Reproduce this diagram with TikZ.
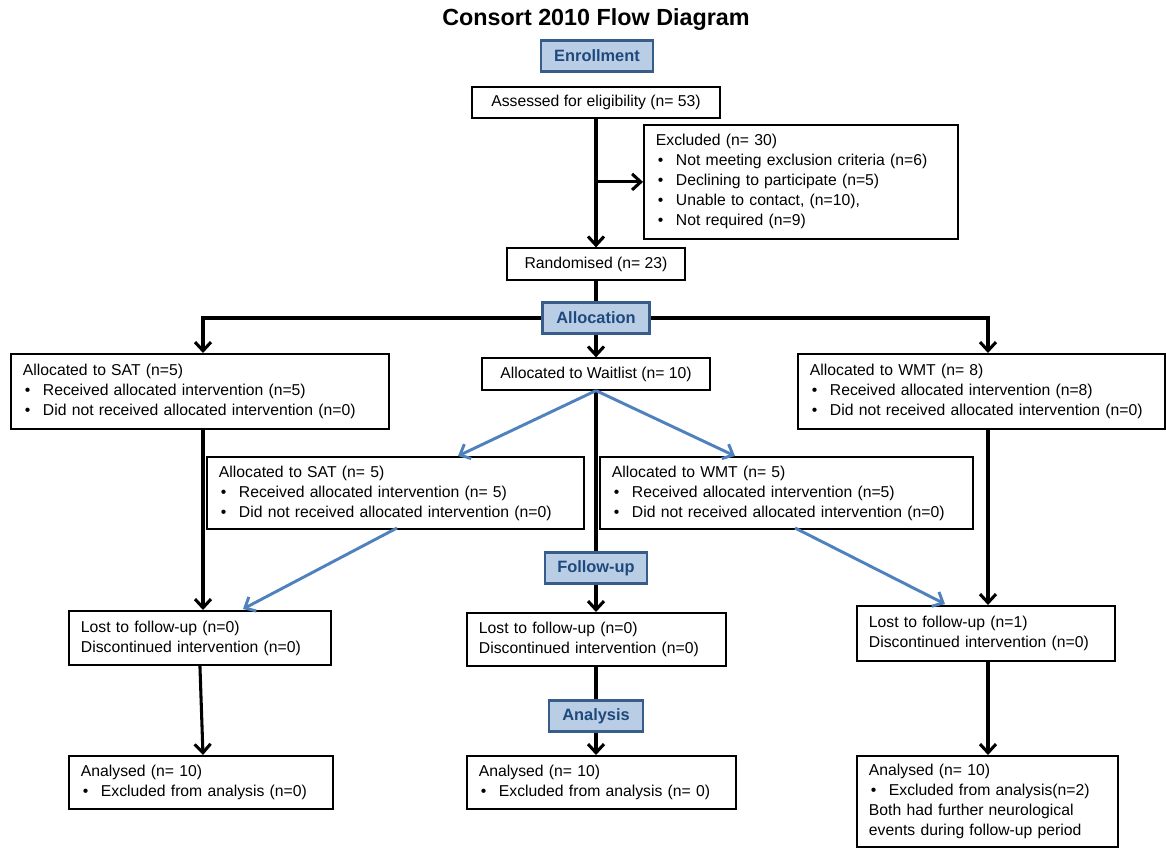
\documentclass[tikz,border=0pt]{standalone}
\usepackage{fontspec}
\setmainfont{Liberation Sans}
\usetikzlibrary{arrows.meta,calc}
\definecolor{lblue}{HTML}{B9CDE5}
\definecolor{dblue}{HTML}{385D8A}
\definecolor{tblue}{HTML}{1F497D}
\definecolor{arrblue}{HTML}{4F81BD}
\newcommand{\bul}{\makebox[15pt][l]{\hspace{1.5pt}•}}
\begin{document}
\begin{tikzpicture}[x=0.75pt,y=-0.75pt,
  box/.style={draw=black, line width=1.4pt, fill=white, inner xsep=9pt, inner ysep=0pt,
    align=left, font=\fontsize{11.8}{15}\selectfont, anchor=north west},
  cbox/.style={draw=black, line width=1.4pt, fill=white, inner sep=0pt,
    font=\fontsize{11.8}{15}\selectfont, minimum height=23.5pt},
  lab/.style={draw=dblue, fill=lblue, line width=2.2pt, inner sep=0pt, minimum height=23.5pt,
    font=\fontsize{12.3}{14}\selectfont\bfseries, text=tblue},
  arr/.style={line width=2.3pt, -{Straight Barb[length=6.5pt,width=12pt]}},
  ln/.style={line width=2.3pt},
  barr/.style={draw=arrblue, line width=2.2pt, -{Straight Barb[length=6.5pt,width=12pt]}}]
\useasboundingbox (0,0) rectangle (1166,848);

\node[font=\fontsize{17.5}{20}\selectfont\bfseries] (title) at (596,20) {Consort 2010 Flow Diagram};

\node[lab, minimum width=84pt] (enroll) at (597,56) {Enrollment};
\node[cbox, minimum width=186pt] (assess) at (596,102.5) {Assessed for eligibility (n= 53)};
\node[box, text width=217.5pt, minimum height=85.5pt] (excl) at (643,124) {Excluded (n= 30)\\
\bul Not meeting exclusion criteria (n=6)\\
\bul Declining to participate (n=5)\\
\bul Unable to contact, (n=10),\\
\bul Not required (n=9)};
\node[cbox, minimum width=133.5pt] (rand) at (596,264) {Randomised (n= 23)};
\node[lab, minimum width=80.25pt] (alloc) at (596,318) {Allocation};

\node[box, text width=265.5pt, minimum height=56.25pt] (sat) at (10,353) {Allocated to SAT (n=5)\\
\bul Received allocated intervention (n=5)\\
\bul Did not received allocated intervention (n=0)};
\node[cbox, minimum width=171pt] (wait) at (596,374) {Allocated to Waitlist (n= 10)};
\node[box, text width=257.25pt, minimum height=56.25pt] (wmt) at (797,353) {Allocated to WMT (n= 8)\\
\bul Received allocated intervention (n=8)\\
\bul Did not received allocated intervention (n=0)};

\node[box, text width=264.75pt, minimum height=54pt] (sat2) at (206,456) {Allocated to SAT (n= 5)\\
\bul Received allocated intervention (n= 5)\\
\bul Did not received allocated intervention (n=0)};
\node[box, text width=261.75pt, minimum height=54pt] (wmt2) at (599,456) {Allocated to WMT (n= 5)\\
\bul Received allocated intervention (n=5)\\
\bul Did not received allocated intervention (n=0)};

\node[lab, minimum width=76.5pt] (follow) at (596,568) {Follow-up};

\node[box, text width=178.5pt, minimum height=40.5pt] (lost1) at (68,610) {Lost to follow-up (n=0)\\
Discontinued intervention (n=0)};
\node[box, text width=176.25pt, minimum height=39.75pt] (lost2) at (466,612) {Lost to follow-up (n=0)\\
Discontinued intervention (n=0)};
\node[box, text width=175.5pt, minimum height=41.25pt] (lost3) at (856,605) {Lost to follow-up (n=1)\\
Discontinued intervention (n=0)};

\node[lab, minimum width=70.5pt] (analysis) at (596,716) {Analysis};

\node[box, text width=180pt, minimum height=39.75pt] (an1) at (68,755) {Analysed (n= 10)\\
\bul Excluded from analysis (n=0)};
\node[box, text width=183.75pt, minimum height=39.75pt] (an2) at (466,755) {Analysed (n= 10)\\
\bul Excluded from analysis (n= 0)};
\node[box, text width=177.75pt, minimum height=68.25pt] (an3) at (856,755) {Analysed (n= 10)\\
\bul Excluded from analysis(n=2)\\
Both had further neurological\\
events during follow-up period};

% columns and free ends
\coordinate (colL) at (203,0);
\coordinate (colR) at (988,0);
\coordinate (j1) at (assess.south |- excl.west);
\coordinate (b1) at (458,456);
\coordinate (b2) at (735,456);
\coordinate (b3s) at (397,528);
\coordinate (b3e) at (243,609);
\coordinate (b4s) at (795,528);
\coordinate (b4e) at (945,604);

% black connectors
\draw[arr] (assess.south) -- (rand.north);
\draw[arr] (j1) -- (excl.west);
\draw[ln] (rand.south) -- (alloc.north);
\draw[arr] (alloc.south) -- (wait.north);
\draw[arr] (alloc.west) -| (sat.north -| colL);
\draw[arr] (alloc.east) -| (wmt.north -| colR);
\draw[arr] (sat.south -| colL) -- (lost1.north -| colL);
\draw[arr] (wmt.south -| colR) -- (lost3.north -| colR);
\draw[ln] (wait.south) -- (follow.north);
\draw[arr] (follow.south) -- (lost2.north -| follow.south);
\draw[ln] (lost2.south -| analysis.north) -- (analysis.north);
\draw[arr] (analysis.south) -- (an2.north -| analysis.south);
\draw[arr] (lost1.south) -- (an1.north -| colL);
\draw[arr] (lost3.south -| colR) -- (an3.north -| colR);

% blue connectors
\draw[barr] (wait.south) -- (b1);
\draw[barr] (wait.south) -- (b2);
\draw[barr] (b3s) -- (b3e);
\draw[barr] (b4s) -- (b4e);
\end{tikzpicture}
\end{document}
